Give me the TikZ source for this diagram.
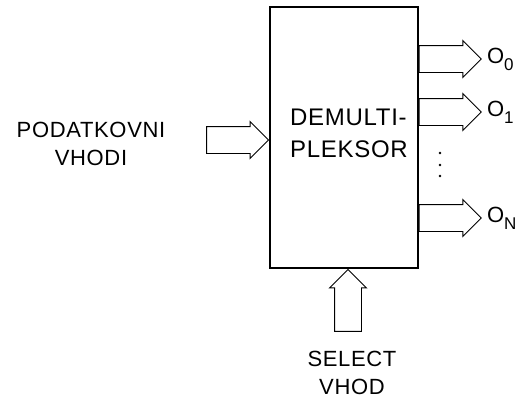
\documentclass[tikz,border=0pt]{standalone}
\usepackage{fontspec}
\setmainfont{Liberation Sans}[LetterSpace=3]
\usetikzlibrary{positioning,shapes.arrows}

% output label with a lowered index
\newcommand{\izhod}[1]{O\raisebox{-7pt}{\fontsize{17}{17}\selectfont #1}}

\begin{document}
\begin{tikzpicture}[
        x=1pt, y=-1pt,
        every node/.style={font=\fontsize{22}{28}\selectfont},
        blok/.style={draw, line width=1.6pt, minimum width=148pt,
            minimum height=261pt},
        puscica/.style={draw, line width=0.9pt, single arrow,
            single arrow head extend=5pt, inner sep=13pt,
            minimum height=62pt},
    ]
    \useasboundingbox (0,0) rectangle (527,400);

    \node[blok] (demux) at (344,137.5) {};
    \node[align=left, font=\fontsize{24}{32}\selectfont] (napis) at (349,133)
        {DEMULTI-\\PLEKSOR};

    % podatkovni vhod
    \node[puscica, anchor=tip] (din) at (demux.west |- 0,140) {};
    \node[align=center] (podatki) at (91,144) {PODATKOVNI\\VHODI};

    % izhodi
    \node[puscica, anchor=tail] (o0) at (demux.east |- 0,59) {};
    \node[puscica, anchor=tail] (o1) at (demux.east |- 0,112) {};
    \node[puscica, anchor=tail] (oN) at (demux.east |- 0,218) {};
    \node[right=5pt of o0.tip, inner sep=0pt] (l0) {\izhod{0}};
    \node[right=5pt of o1.tip, inner sep=0pt] (l1) {\izhod{1}};
    \node[right=5pt of oN.tip, inner sep=0pt] (lN) {\izhod{N}};
    \foreach \y in {153,165,176}
        \fill (440,\y) circle (1.3pt);

    % izbirni vhod
    \node[puscica, anchor=tip, shape border rotate=90] (sel)
        at ([xshift=4pt]demux.south) {};
    \node[align=center, below=19pt of sel.tail, inner sep=0pt,
        xshift=4pt] (izbira) {SELECT\\VHOD};
\end{tikzpicture}
\end{document}
